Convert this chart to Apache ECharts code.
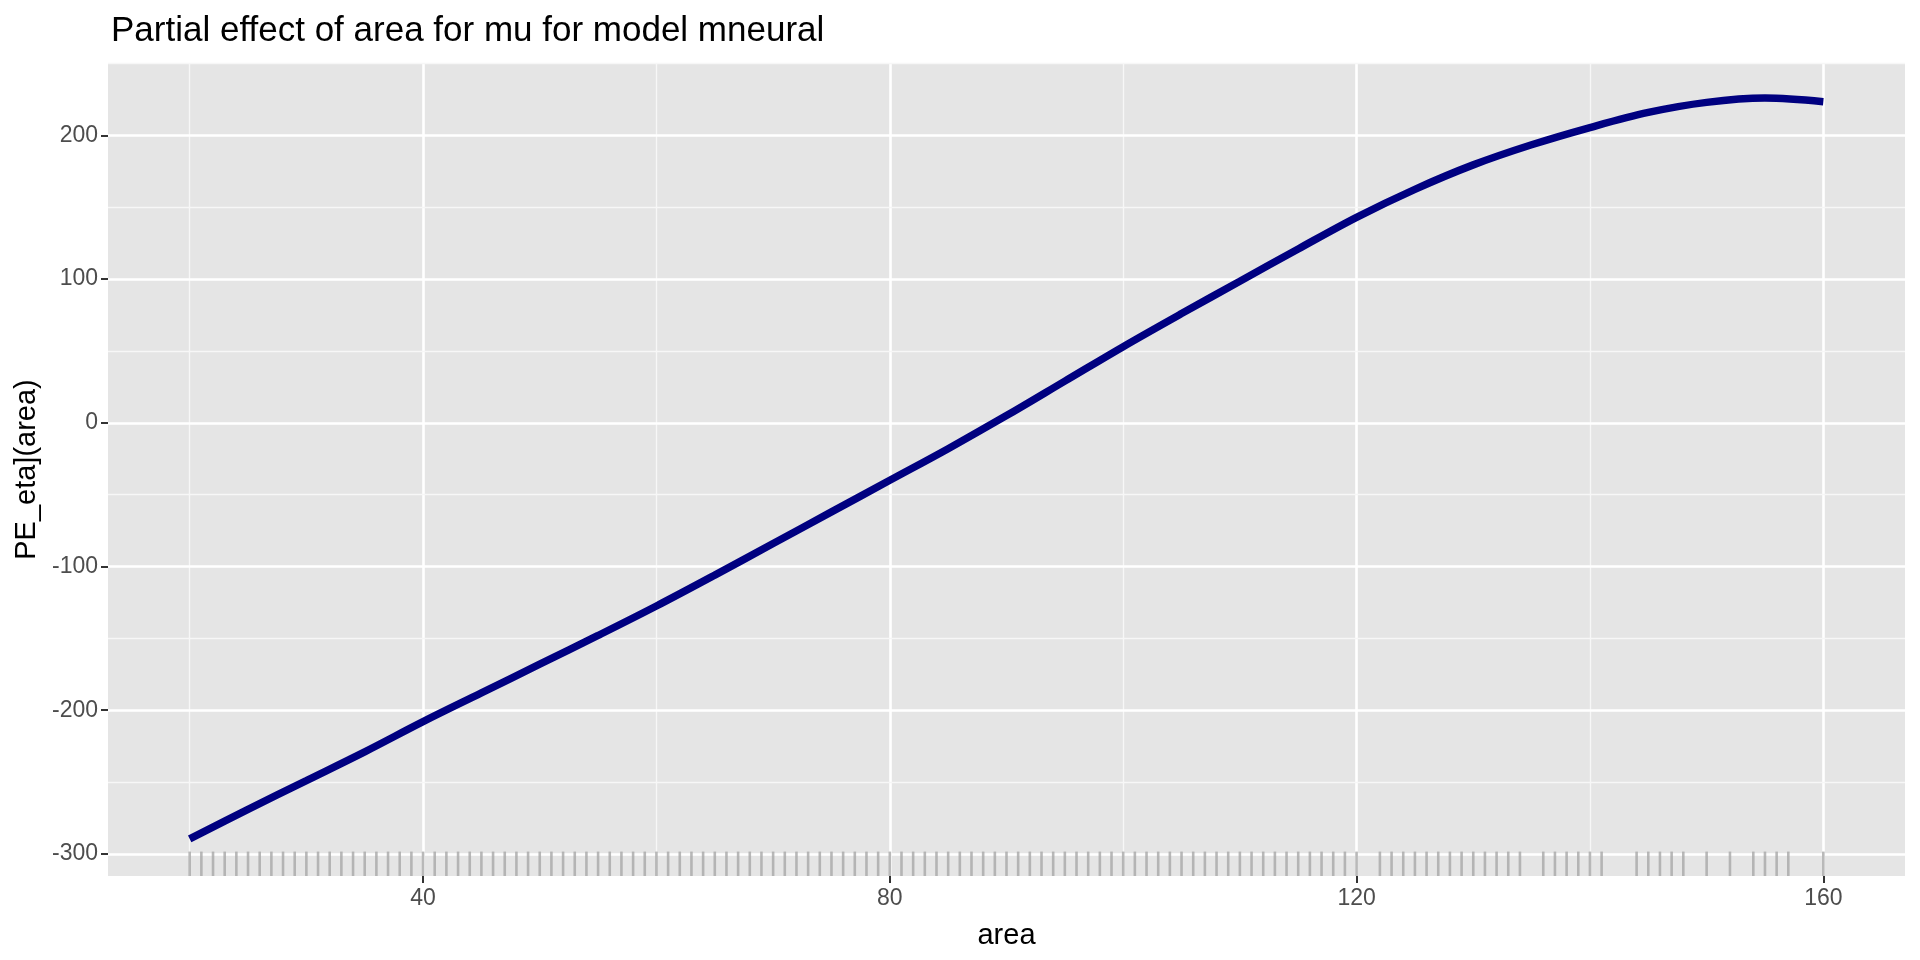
<!DOCTYPE html>
<html>
<head>
<meta charset="utf-8">
<title>Partial effect of area</title>
<script src="https://cdn.jsdelivr.net/npm/echarts@6/dist/echarts.min.js"></script>
<style>
  html, body { margin: 0; padding: 0; background: #fff; }
  #chart { width: 1920px; height: 960px; }
</style>
</head>
<body>
<div id="chart"></div>
<script>
// fitted partial effect, every 5 units of area
const areaGrid = [20, 25, 30, 35, 40, 45, 50, 55, 60, 65, 70, 75, 80, 85, 90,
  95, 100, 105, 110, 115, 120, 125, 130, 135, 140, 145, 150, 155, 160]
const partialEffect = [-289.5, -269, -249, -229, -208, -188, -168, -148, -127.5, -106, -84, -62, -40, -18, 5,
  29, 53, 76, 98.5, 121, 143, 162.5, 179.5, 193.5, 205.5, 216, 223, 226, 223.5]

// observed area values (rug along the bottom)
const rugArea = [20, 21, 22, 23, 24, 25, 26, 27, 28, 29, 30, 31, 32, 33, 34, 35, 36, 37, 38, 39,
  40, 41, 42, 43, 44, 45, 46, 47, 48, 49, 50, 51, 52, 53, 54, 55, 56, 57, 58, 59,
  60, 61, 62, 63, 64, 65, 66, 67, 68, 69, 70, 71, 72, 73, 74, 75, 76, 77, 78, 79,
  80, 81, 82, 83, 84, 85, 86, 87, 88, 89, 90, 91, 92, 93, 94, 95, 96, 97, 98, 99,
  100, 101, 102, 103, 104, 105, 106, 107, 108, 109, 110, 111, 112, 113, 114, 115, 116, 117, 118, 119,
  120, 122, 123, 124, 125, 126, 127, 128, 129, 130, 131, 132, 133, 134,
  136, 137, 138, 139, 140, 141, 144, 145, 146, 147, 148, 150, 152, 154, 155, 156, 157, 160]

const xTicks = [40, 80, 120, 160]
const xMinor = [20, 60, 100, 140]
const yTicks = [-300, -200, -100, 0, 100, 200]
const yMinor = [-250, -150, -50, 50, 150, 250]
const xRange = [13, 167]
const yRange = [-315.4, 250.4]

const chart = echarts.init(document.getElementById('chart'))

// panel grid drawn as mark lines so they sit on ggplot-like breaks
const gridLines = []
xTicks.forEach(v => gridLines.push({xAxis: v, lineStyle: {color: '#fff', width: 2.6, type: 'solid'}}))
xMinor.forEach(v => gridLines.push({xAxis: v, lineStyle: {color: '#f7f7f7', width: 1.3, type: 'solid'}}))
yTicks.forEach(v => gridLines.push({yAxis: v, lineStyle: {color: '#fff', width: 2.6, type: 'solid'}}))
yMinor.forEach(v => gridLines.push({yAxis: v, lineStyle: {color: '#f7f7f7', width: 1.3, type: 'solid'}}))

const option = {
  animation: false,
  textStyle: {fontFamily: 'Liberation Sans, Arial, sans-serif'},
  title: {
    text: 'Partial effect of area for mu for model mneural',
    left: 106,
    top: 9,
    textStyle: {fontSize: 35, fontWeight: 'normal', color: '#000'}
  },
  grid: {
    left: 108, right: 15, top: 63, bottom: 84,
    show: true, backgroundColor: '#e5e5e5', borderWidth: 0
  },
  xAxis: {
    type: 'value',
    min: xRange[0], max: xRange[1],
    name: 'area',
    nameLocation: 'middle',
    nameGap: 45,
    nameTextStyle: {fontSize: 29, color: '#000'},
    axisLine: {show: false, onZero: false},
    axisTick: {show: true, customValues: xTicks, length: 7, lineStyle: {color: '#333', width: 2}},
    axisLabel: {customValues: xTicks, fontSize: 23, color: '#4d4d4d', margin: 11},
    splitLine: {show: false}
  },
  yAxis: {
    type: 'value',
    min: yRange[0], max: yRange[1],
    name: 'PE_eta](area)',
    nameLocation: 'middle',
    nameGap: 66,
    nameTextStyle: {fontSize: 29, color: '#000'},
    axisLine: {show: false, onZero: false},
    axisTick: {show: true, customValues: yTicks, length: 7, lineStyle: {color: '#333', width: 2}},
    axisLabel: {customValues: yTicks, fontSize: 23, color: '#4d4d4d', margin: 10},
    splitLine: {show: false}
  },
  series: [
    {
      type: 'line',
      data: [],
      z: 0,
      silent: true,
      markLine: {
        z: 0,
        silent: true,
        symbol: ['none', 'none'],
        label: {show: false},
        emphasis: {disabled: true},
        animation: false,
        data: gridLines
      }
    },
    {
      name: 'rug',
      type: 'scatter',
      z: 2,
      silent: true,
      symbol: 'rect',
      symbolSize: [2.6, 24.4],
      symbolOffset: [0, -12.2],
      itemStyle: {color: '#a8a8a8'},
      data: rugArea.map(a => [a, yRange[0]])
    },
    {
      name: 'effect',
      type: 'line',
      z: 3,
      smooth: 0.35,
      showSymbol: false,
      lineStyle: {color: '#000080', width: 7.5},
      data: areaGrid.map((a, i) => [a, partialEffect[i]])
    }
  ]
}
chart.setOption(option)
</script>
</body>
</html>
